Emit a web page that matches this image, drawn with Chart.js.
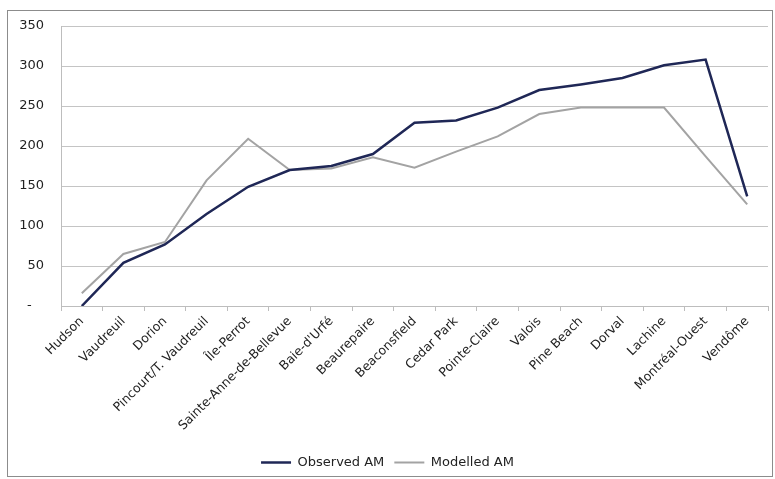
<!DOCTYPE html>
<html>
<head>
<meta charset="utf-8">
<script src="https://cdn.jsdelivr.net/npm/chart.js@4.4.0/dist/chart.umd.min.js"></script>
<style>
  html, body { margin: 0; padding: 0; background: #fff; }
  #wrap { position: absolute; left: 0; top: 0; width: 775px; height: 479px; }
</style>
</head>
<body>
<div id="wrap"><canvas id="chart" width="775" height="479"></canvas></div>
<script>
// Données
const stations = ['Hudson', 'Vaudreuil', 'Dorion', 'Pincourt/T. Vaudreuil', 'Île-Perrot',
    'Sainte-Anne-de-Bellevue', "Baie-d'Urfé", 'Beaurepaire', 'Beaconsfield', 'Cedar Park',
    'Pointe-Claire', 'Valois', 'Pine Beach', 'Dorval', 'Lachine', 'Montréal-Ouest', 'Vendôme'];
const observedAM = [0, 54, 77, 115, 149, 170, 175, 190, 229, 232, 248, 270, 277, 285, 301, 308, 137];
const modelledAM = [16, 65, 80, 157, 209, 170, 172, 186, 173, 193, 212, 240, 248, 248, 248, 187, 127];
const yTicks = [0, 50, 100, 150, 200, 250, 300, 350];

const font = 'DejaVu Sans';

// Cadre gris autour du graphique
const framePlugin = {
    id: 'frame',
    beforeDraw(chart) {
        const ctx = chart.ctx;
        ctx.save();
        ctx.fillStyle = '#fff';
        ctx.fillRect(0, 0, chart.width, chart.height);
        ctx.strokeStyle = '#8c8c8c';
        ctx.lineWidth = 1;
        ctx.strokeRect(7.5, 10.5, 765, 466);
        ctx.restore();
    }
};

new Chart(document.getElementById('chart'), {
    type: 'line',
    data: {
        labels: stations,
        datasets: [{
            label: 'Observed AM',
            data: observedAM,
            borderColor: '#1f2756',
            backgroundColor: '#1f2756',
            borderWidth: 2.5,
            pointRadius: 0,
            tension: 0
        }, {
            label: 'Modelled AM',
            data: modelledAM,
            borderColor: '#a3a3a3',
            backgroundColor: '#a3a3a3',
            borderWidth: 2,
            pointRadius: 0,
            tension: 0
        }]
    },
    options: {
        responsive: false,
        animation: false,
        layout: { padding: { left: 7, right: 7, top: 26, bottom: 0 } },
        plugins: {
            legend: {
                position: 'bottom',
                labels: {
                    usePointStyle: true,
                    pointStyle: 'line',
                    pointStyleWidth: 30,
                    color: '#222',
                    font: { family: font, size: 13 },
                    padding: 10
                }
            },
            tooltip: { enabled: false }
        },
        scales: {
            x: {
                offset: true,
                afterFit(scale) { scale.height = 140; },
                grid: {
                    offset: true,
                    drawOnChartArea: false,
                    drawTicks: true,
                    tickLength: 5,
                    color: '#bdbdbd'
                },
                border: { color: '#bdbdbd' },
                ticks: {
                    autoSkip: false,
                    maxRotation: 45,
                    minRotation: 45,
                    padding: 3,
                    color: '#222',
                    font: { family: font, size: 12.5 }
                }
            },
            y: {
                min: 0,
                max: 350,
                afterFit(scale) { scale.width = 54; },
                afterBuildTicks(scale) { scale.ticks = yTicks.map(v => ({ value: v })); },
                grid: { color: '#c4c4c4', drawTicks: false },
                border: { color: '#bdbdbd' },
                ticks: {
                    padding: 17,
                    color: '#222',
                    font: { family: font, size: 13 },
                    callback: v => v === 0 ? '-   ' : String(v)
                }
            }
        }
    },
    plugins: [framePlugin]
});
</script>
</body>
</html>
